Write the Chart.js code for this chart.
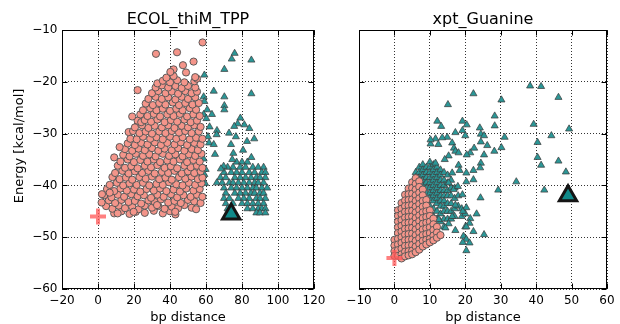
<!DOCTYPE html>
<html>
<head>
<meta charset="utf-8">
<script src="https://cdn.jsdelivr.net/npm/chart.js@4.4.0/dist/chart.umd.min.js"></script>
<style>
  html, body { margin: 0; padding: 0; background: #fff; }
  #wrap { position: relative; width: 620px; height: 324px; overflow: hidden; }
  canvas { position: absolute; top: 0; }
  #left { left: 0; }
  #right { left: 330px; }
</style>
</head>
<body>
<div id="wrap">
  <canvas id="left" width="330" height="324"></canvas>
  <canvas id="right" width="290" height="324"></canvas>
</div>
<script>
// labels and ticks
const titles = ['ECOL_thiM_TPP', 'xpt_Guanine'];
const xLabel = 'bp distance';
const yLabel = 'Energy [kcal/mol]';
const yTicks = [-60, -50, -40, -30, -20, -10];
const ecolXTicks = [-20, 0, 20, 40, 60, 80, 100, 120];
const xptXTicks = [-10, 0, 10, 20, 30, 40, 50, 60];

// ECOL_thiM_TPP: pink circles [distance, energy]
const ecolPinkPts = [
  [9, -45.4], [13, -45.0], [17.5, -45.5], [21, -45.1], [26, -45.3], [31, -44.9], [36, -45.4], [40, -45.0], [43, -45.6],
  [4.5, -44.0], [8, -44.5], [11.5, -43.9], [15, -44.4], [19, -44.1], [22.5, -44.6], [26, -43.9], [30, -44.3],
  [33.5, -44.0], [37, -44.5], [41, -44.1], [44.5, -44.4], [48, -43.8], [52, -44.3], [54.5, -44.6],
  [2, -43.3], [6, -42.9], [9.5, -43.4], [13, -42.8], [17, -43.2], [20.5, -43.0], [24, -43.5], [28, -42.9],
  [31.5, -43.2], [35, -42.7], [39, -43.3], [42.5, -43.0], [46, -43.4], [50, -42.8], [53.5, -43.1], [57, -43.4],
  [3.5, -41.9], [7.5, -42.3], [11, -41.8], [14.5, -42.2], [18.5, -41.7], [22, -42.1], [25.5, -41.9], [29.5, -42.4],
  [33, -41.8], [36.5, -42.2], [40.5, -41.7], [44, -42.3], [47.5, -41.9], [51.5, -42.2], [55, -41.8], [58, -42.2],
  [5, -40.7], [9, -41.1], [12.5, -40.6], [16, -41.0], [20, -40.8], [23.5, -41.2], [27, -40.7], [31, -41.0],
  [34.5, -40.6], [38, -41.1], [42, -40.8], [45.5, -41.2], [49, -40.6], [53, -41.0], [56.5, -40.7],
  [6.5, -39.9], [10.5, -39.5], [14, -40.0], [17.5, -39.6], [21.5, -39.9], [25, -39.5], [28.5, -40.0], [32.5, -39.7],
  [36, -39.9], [39.5, -39.4], [43.5, -39.8], [47, -40.0], [50.5, -39.5], [54, -39.9], [57.5, -39.6],
  [8, -38.4], [12, -38.8], [15.5, -38.5], [19, -38.9], [23, -38.4], [26.5, -38.7], [30, -38.3], [34, -38.8],
  [37.5, -38.5], [41, -38.9], [45, -38.4], [48.5, -38.7], [52, -38.3], [55.5, -38.8], [58, -38.5],
  [9.5, -37.6], [13.5, -37.2], [17, -37.7], [20.5, -37.3], [24.5, -37.6], [28, -37.2], [31.5, -37.7], [35.5, -37.4],
  [39, -37.6], [42.5, -37.2], [46.5, -37.7], [50, -37.3], [53.5, -37.6], [57, -37.3],
  [11, -36.2], [15, -36.6], [18.5, -36.3], [22, -36.7], [26, -36.2], [29.5, -36.5], [33, -36.1], [37, -36.6],
  [40.5, -36.3], [44, -36.7], [48, -36.2], [51.5, -36.5], [55, -36.2], [58, -36.6],
  [12.5, -35.4], [16.5, -35.0], [20, -35.5], [23.5, -35.1], [27.5, -35.4], [31, -35.0], [34.5, -35.5], [38.5, -35.2],
  [42, -35.4], [45.5, -35.0], [49.5, -35.5], [53, -35.1], [56.5, -35.4],
  [9, -34.6], [14, -34.1], [17.5, -34.4], [21, -33.9], [25, -34.3], [28.5, -34.0], [32, -34.4], [36, -33.9],
  [39.5, -34.3], [43, -34.0], [47, -34.4], [50.5, -34.0], [54, -34.3], [57.5, -33.9],
  [15, -33.0], [19, -33.3], [22.5, -32.9], [26, -33.2], [30, -32.8], [33.5, -33.3], [37, -32.9], [41, -33.2],
  [44.5, -32.8], [48, -33.3], [52, -33.0], [55.5, -33.2],
  [12, -32.6], [16.5, -31.9], [20.5, -32.2], [24, -31.8], [27.5, -32.1], [31.5, -31.7], [35, -32.2], [38.5, -31.8],
  [42.5, -32.1], [46, -31.7], [49.5, -32.2], [53.5, -31.8], [57, -32.1],
  [18, -31.0], [21.5, -31.1], [25, -30.6], [29, -31.0], [32.5, -30.7], [36, -31.1], [40, -30.6], [43.5, -31.0],
  [47, -30.7], [51, -31.1], [54.5, -30.8], [58, -31.0],
  [17, -29.7], [19.5, -29.5], [23, -29.9], [26.5, -29.6], [30, -30.0], [34, -29.6], [37.5, -29.9], [41, -29.5],
  [45, -29.8], [48.5, -29.5], [52, -29.9], [56, -29.6],
  [20.5, -28.8], [24.5, -28.4], [28, -28.9], [31.5, -28.5], [35.5, -28.8], [39, -28.4], [42.5, -28.9], [46.5, -28.5],
  [50, -28.8], [53.5, -28.4], [57, -28.7],
  [22, -27.5], [24, -27.8], [26, -27.4], [29.5, -27.7], [33, -27.3], [37, -27.8], [40.5, -27.4], [44, -27.7],
  [48, -27.3], [51.5, -27.8], [55, -27.5],
  [19, -26.7], [23.5, -26.3], [27.5, -26.6], [31, -26.2], [34.5, -26.7], [38.5, -26.3], [42, -26.6], [45.5, -26.2],
  [49.5, -26.7], [53, -26.3], [56.5, -26.6],
  [25, -25.5], [29, -25.1], [32.5, -25.5], [36, -25.2], [40, -25.6], [43.5, -25.2], [47, -25.5], [51, -25.1], [54.5, -25.4],
  [26.5, -24.2], [30.5, -24.5], [34, -24.1], [37.5, -24.4], [41.5, -24.0], [45, -24.5], [48.5, -24.1], [52.5, -24.4], [56, -24.1],
  [28, -23.3], [32, -22.9], [35.5, -23.3], [39, -23.0], [43, -23.4], [46.5, -22.9], [50, -23.3], [54, -23.0],
  [22, -21.6], [30, -22.2], [33.5, -21.8], [37.5, -22.2], [41, -21.9], [44.5, -22.3], [48.5, -21.8], [52, -22.2], [55, -21.9],
  [32, -21.1], [35.5, -20.7], [39, -21.1], [43, -20.8], [46.5, -21.2], [50, -20.8], [54, -21.1],
  [33, -20.3], [36, -19.8], [40, -20.1], [44, -19.7], [48, -20.1], [53.5, -19.9],
  [38, -19.2], [42, -18.9], [55, -19.4],
  [58.1, -12.4], [32.2, -14.6], [43.9, -14.3], [53.1, -16.1], [47.2, -16.8],
  [42, -17.6], [40.2, -18.1], [48.9, -18.2], [54, -19.1],
  [6.5, -41.4], [2.2, -41.7], [42.9, -45.1], [32.8, -43.8], [19.8, -45.1], [10.9, -45.4]
];
// ECOL_thiM_TPP: teal triangles, rows of [energy, distances...]
const ecolTealRows = [
  [-35.5, 77, 80, 83],
  [-36.5, 72, 75, 79, 82, 86, 89, 92],
  [-37.5, 70, 74, 77, 80, 84, 87, 91, 93],
  [-38.5, 68, 71, 76, 79, 82, 85, 88, 90, 93],
  [-39.5, 66, 69, 73, 75, 78, 81, 84, 87, 89, 92],
  [-40.5, 70, 74, 77, 80, 83, 86, 88, 91, 94],
  [-41.5, 71, 76, 79, 82, 85, 87, 90, 92],
  [-42.5, 70, 73, 78, 81, 84, 88, 90, 93],
  [-43.5, 71, 75, 80, 83, 86, 89, 92],
  [-44.5, 72, 83, 86, 89, 91, 93],
  [-45.3, 88, 90, 93]
];
const ecolTealPts = [
  [75.9, -14.5], [74.3, -15.6], [85.2, -15.8], [70.2, -17.6], [59.1, -18.7],
  [64.3, -21.8], [70.2, -22.9], [85.2, -22.3], [58.7, -22.9], [59.1, -23.8],
  [70.2, -24.6], [70.2, -25.4], [60.7, -25.4], [63.3, -26.3], [58.7, -26.3],
  [60.2, -27.1], [79.1, -27], [77.6, -28.1], [81.3, -28.3], [75.7, -28.6],
  [84.1, -29], [62, -28.7], [66.1, -29.4], [72.8, -29.9], [65.9, -30.2],
  [76.6, -30.6], [86.8, -31], [82.8, -31.5], [61.1, -30.6], [61.7, -31.8],
  [64.3, -32.1], [73.9, -32.1], [80.6, -33.2], [65, -34], [75.2, -33.8],
  [85.2, -34.6], [74.6, -35], [58.7, -34.9], [59.8, -36.9], [59.1, -37.9],
  [69.8, -36.3], [68.3, -36.8], [59.5, -39.6]
];
const ecolRef = [[74, -45.5]];
const ecolStart = [[0, -46]];

// xpt_Guanine: pink circles, columns of [distance, energies...]
const xptPinkCols = [
  [0, -50.5, -51.6, -52.7, -53.6],
  [1, -44.8, -45.9, -47, -48.1, -49.2, -50.3, -51.4, -52.5, -53.6],
  [2, -43.4, -44.5, -45.6, -46.7, -47.8, -48.9, -50, -51.1, -52.2, -53.3, -54.1],
  [3, -41.8, -42.9, -44, -45.1, -46.2, -47.3, -48.4, -49.5, -50.6, -51.7, -52.8, -53.7],
  [4, -40.6, -41.7, -42.8, -43.9, -45, -46.1, -47.2, -48.3, -49.4, -50.5, -51.6, -52.7, -53.5],
  [5, -39.4, -40.5, -41.6, -42.7, -43.8, -44.9, -46, -47.1, -48.2, -49.3, -50.4, -51.5, -52.6, -53.3],
  [6, -38.6, -39.7, -40.8, -41.9, -43, -44.1, -45.2, -46.3, -47.4, -48.5, -49.6, -50.7, -51.8, -52.9],
  [7, -39.2, -40.3, -41.4, -42.5, -43.6, -44.7, -45.8, -46.9, -48, -49.1, -50.2, -51.3, -52.4],
  [8, -40.8, -41.9, -43, -44.1, -45.2, -46.3, -47.4, -48.5, -49.6, -50.7, -51.8],
  [9, -42.8, -43.9, -45, -46.1, -47.2, -48.3, -49.4, -50.5, -51.4],
  [10, -44.8, -45.9, -47, -48.1, -49.2, -50.3, -51],
  [11, -46.4, -47.5, -48.6, -49.7, -50.6],
  [12, -48, -49.1, -50.1],
  [13, -49.6]
];
// xpt_Guanine: teal triangles
const xptTealCols = [
  [6, -37.5, -38.5],
  [7, -36.5, -37.5, -38.5, -39.5, -40.5],
  [8, -36, -37, -38, -39, -40, -41, -42.5],
  [9, -36.5, -37.5, -38.5, -39.5, -40.5, -41.5, -43, -44.5],
  [10, -35.5, -36.5, -37.5, -38.5, -39.5, -40.5, -41.5, -42.5, -44, -45.5],
  [11, -36, -37, -38, -39, -40, -41, -42, -43, -44.5, -46],
  [12, -36.5, -37.5, -38.5, -39.5, -40.5, -41.5, -42.5, -43.5, -45, -46.5],
  [13, -37, -38, -39, -40, -41, -42, -43, -44, -45.5, -47],
  [14, -37.5, -39, -40, -41, -42, -43, -44, -45, -46.5, -48],
  [15, -38, -39.5, -41, -42, -43.5, -45, -46.5],
  [16, -39, -40.5, -42, -43.5, -45, -46.5],
  [17, -40.5, -42.5, -44.5, -46],
  [18, -42, -44],
  [19, -44.5, -46],
  [20, -45.5, -48]
];
const xptTealPts = [
  [22.3, -22.3], [30.2, -23.5], [15.1, -24.4], [38.3, -20.8], [41.4, -20.9],
  [46.3, -23], [49.3, -29.1], [39.3, -28.2], [44.3, -30.4], [40.4, -31.7],
  [40.4, -34.6], [41.4, -36.1], [46.3, -35.3], [48.4, -37.4], [34.4, -39.3],
  [42.3, -40.9], [29.3, -40.9], [28.3, -26.6], [28.3, -28.5], [31.1, -30.7],
  [30.2, -32.7], [28.2, -33.4], [26.2, -32.3], [25.3, -34.1], [24.4, -35.7],
  [24.1, -28.9], [24.4, -30.1], [25.3, -30.4], [24.4, -31.6], [21.4, -33.7],
  [22.5, -32.8], [20.4, -34.1], [19.2, -27.6], [20.4, -28.3], [19.2, -29.4],
  [20, -30.4], [17.2, -29.8], [12.1, -27.6], [13.2, -28.6], [11.6, -31],
  [10.2, -32], [10.2, -31.2], [12.4, -32.1], [14.9, -30.7], [13.5, -30.8],
  [16.3, -31.8], [16.8, -32.8], [17.2, -33.4], [18.1, -33.7], [15.3, -34.3],
  [14.2, -35], [11.6, -35.7], [18.1, -36.1], [18.4, -37.1], [20.3, -37.6],
  [22.3, -37.1], [22.3, -38.9], [24.2, -36.6], [20.3, -39.3], [16.3, -37.6],
  [15.3, -39.5], [16.7, -40.8], [17.9, -40.2], [19.2, -41.8], [24.3, -42.4],
  [17.2, -43.8], [20.3, -44.3], [19.3, -45], [23.2, -45.5], [16.3, -46],
  [21.4, -46.4], [21.2, -47.3], [20.3, -48], [22.3, -48.9], [17.2, -48.7],
  [25.3, -49.5], [19.5, -49.8], [20.3, -50.4], [21.2, -51.1], [20.3, -52.6],
  [19.3, -51], [15.3, -47.4], [14.4, -48.2], [12.5, -46.6]
];
const xptRef = [[49, -42]];
const xptStart = [[0, -54]];

function fromPairs(p) { return p.map(([x, y]) => ({x: x, y: y})); }
function fromRows(rows) { return rows.flatMap(r => r.slice(1).map(x => ({x: x, y: r[0]}))); }
function fromCols(cols) { return cols.flatMap(c => c.slice(1).map(y => ({x: c[0], y: y}))); }
function fmt(v) { return String(v).replace('-', '\u2212'); }

Chart.defaults.font.family = "'DejaVu Sans', sans-serif";
Chart.defaults.color = '#000';

// frame + inward ticks on all four sides
const framePlugin = {
  id: 'frame',
  afterDraw(chart) {
    const {ctx, chartArea: a, scales} = chart;
    const L = Math.round(a.left) + 0.5, R = Math.round(a.right) - 0.5;
    const T = Math.round(a.top) + 0.5, B = Math.round(a.bottom) - 0.5;
    ctx.save();
    ctx.strokeStyle = '#000';
    ctx.lineWidth = 1;
    ctx.beginPath();
    scales.x.ticks.forEach(t => {
      const p = Math.round(scales.x.getPixelForValue(t.value)) + 0.5;
      ctx.moveTo(p, B); ctx.lineTo(p, B - 5);
      ctx.moveTo(p, T); ctx.lineTo(p, T + 5);
    });
    scales.y.ticks.forEach(t => {
      const p = Math.round(scales.y.getPixelForValue(t.value)) + 0.5;
      ctx.moveTo(L, p); ctx.lineTo(L + 5, p);
      ctx.moveTo(R, p); ctx.lineTo(R - 5, p);
    });
    ctx.stroke();
    ctx.strokeRect(L, T, R - L, B - T);
    ctx.restore();
  }
};

const yLabelPlugin = {
  id: 'ylabel',
  afterDraw(chart) {
    const ctx = chart.ctx;
    ctx.save();
    ctx.translate(23, 146);
    ctx.rotate(-Math.PI / 2);
    ctx.font = "13px 'DejaVu Sans', sans-serif";
    ctx.fillStyle = '#000';
    ctx.textAlign = 'center';
    ctx.textBaseline = 'alphabetic';
    ctx.fillText(yLabel, 0, 0);
    ctx.restore();
  }
};

function makeChart(id, title, xTicks, sets, showY, yWidth, padRight, extraPlugins) {
  const gridOpts = {color: 'rgba(0,0,0,0.8)', lineWidth: 1, drawTicks: false};
  const borderOpts = {display: false, dash: [1, 2]};
  return new Chart(document.getElementById(id), {
    type: 'scatter',
    data: {
      datasets: [
        {data: fromPairs(sets.start), pointStyle: 'cross', pointRadius: 8,
         pointBorderColor: 'rgba(255,85,85,0.75)', pointBorderWidth: 4},
        {data: fromPairs(sets.ref), pointStyle: 'triangle', pointRadius: 10,
         pointBackgroundColor: '#108a8a', pointBorderColor: '#151515', pointBorderWidth: 3},
        {data: sets.pink, pointStyle: 'circle', pointRadius: 3.6,
         pointBackgroundColor: '#f4958a', pointBorderColor: 'rgba(85,85,85,0.95)', pointBorderWidth: 1},
        {data: sets.teal, pointStyle: 'triangle', pointRadius: 4.1,
         pointBackgroundColor: '#2b9797', pointBorderColor: 'rgba(60,60,60,0.9)', pointBorderWidth: 0.8}
      ]
    },
    options: {
      responsive: false,
      animation: false,
      events: [],
      layout: {padding: {left: 0, right: padRight, top: 0, bottom: 0}},
      plugins: {
        legend: {display: false},
        tooltip: {enabled: false},
        title: {display: true, text: title, fullSize: false, color: '#000',
                font: {size: 16, weight: 'normal'}, padding: {top: 10, bottom: 0.8}}
      },
      scales: {
        x: {
          type: 'linear', position: 'bottom',
          min: xTicks[0], max: xTicks[xTicks.length - 1],
          ticks: {stepSize: xTicks[1] - xTicks[0], callback: fmt, padding: 4.5,
                  maxRotation: 0, autoSkip: false, font: {size: 12}},
          grid: gridOpts, border: borderOpts,
          title: {display: true, text: xLabel, font: {size: 13, lineHeight: 1}, padding: {top: 0, bottom: 0}},
          afterFit: s => { s.height = 35; }
        },
        y: {
          type: 'linear', position: 'left',
          min: yTicks[0], max: yTicks[yTicks.length - 1],
          ticks: {display: showY, stepSize: yTicks[1] - yTicks[0], callback: fmt, padding: 4.5, font: {size: 12}},
          grid: gridOpts, border: borderOpts,
          afterFit: s => { s.width = yWidth; }
        }
      }
    },
    plugins: [framePlugin].concat(extraPlugins)
  });
}

makeChart('left', titles[0], ecolXTicks, {
  start: ecolStart, ref: ecolRef,
  pink: fromPairs(ecolPinkPts),
  teal: fromRows(ecolTealRows).concat(fromPairs(ecolTealPts))
}, true, 62, 16, [yLabelPlugin]);

makeChart('right', titles[1], xptXTicks, {
  start: xptStart, ref: xptRef,
  pink: fromCols(xptPinkCols),
  teal: fromCols(xptTealCols).concat(fromPairs(xptTealPts))
}, false, 29, 10, []);
</script>
</body>
</html>
